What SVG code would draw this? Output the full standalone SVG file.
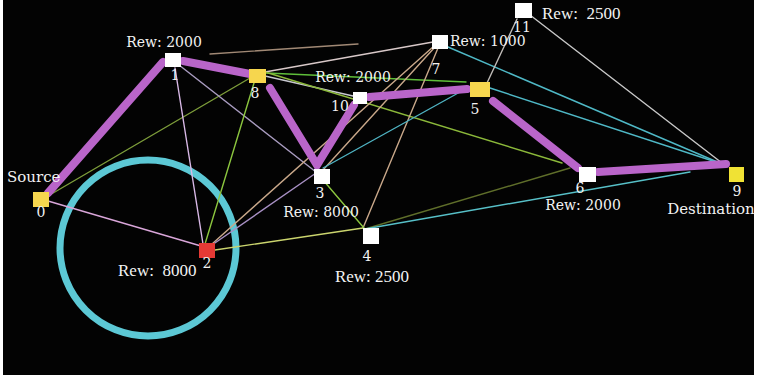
<svg xmlns="http://www.w3.org/2000/svg" width="757" height="379" viewBox="0 0 757 379">
  <style>
    .lbl { font-family: "DejaVu Serif", "Liberation Serif", serif; fill: #f2f2f2; }
    .rew { font-size: 14px; }
    .tms { font-family: "Liberation Serif", "DejaVu Serif", serif; font-size: 17px; white-space: pre; }
    .big { font-size: 15px; }
    .num { font-size: 14px; text-anchor: middle; }
    .mid { text-anchor: middle; }
    .edge { fill: none; stroke-width: 1.4; stroke-linecap: round; }
    .route { fill: none; stroke: #b965c9; stroke-width: 8; stroke-linecap: round; }
    .white { fill: #ffffff; }
    .gold { fill: #f6d64e; }
    .lemon { fill: #f0e234; }
    .red { fill: #e53a35; }
  </style>

  <rect x="0" y="0" width="757" height="379" fill="#ffffff"/>
  <rect x="3" y="0" width="751" height="375" fill="#030303"/>

  <!-- highlight ring around node 2 -->
  <circle cx="148" cy="248" r="88" fill="none" stroke="#5cc8d5" stroke-width="7"/>

  <g id="connectors">
    <!-- thin candidate edges -->
    <line class="edge" x1="210" y1="54" x2="358" y2="44" stroke="#c9ab92" stroke-width="2" opacity="0.8"/>
    <line class="edge" x1="48" y1="196" x2="250" y2="78" stroke="#7d9d3a"/>
    <line class="edge" x1="48" y1="201" x2="201" y2="246" stroke="#d9a6d9"/>
    <line class="edge" x1="175" y1="68" x2="203" y2="244" stroke="#d8b8e6"/>
    <line class="edge" x1="179" y1="65" x2="316" y2="172" stroke="#a99cc0"/>
    <line class="edge" x1="254" y1="83" x2="205" y2="244" stroke="#8cc63f"/>
    <line class="edge" x1="265" y1="72" x2="433" y2="42" stroke="#d8c8c8"/>
    <line class="edge" x1="266" y1="73" x2="466" y2="82" stroke="#5fbf3a" stroke-width="1.8"/>
    <line class="edge" x1="265" y1="76" x2="353" y2="96" stroke="#c8c8d0"/>
    <line class="edge" x1="265" y1="72" x2="562" y2="163" stroke="#8bb83a"/>
    <line class="edge" x1="434" y1="46" x2="212" y2="244" stroke="#c9a88a"/>
    <line class="edge" x1="435" y1="47" x2="323" y2="170" stroke="#c9a88a"/>
    <line class="edge" x1="438" y1="48" x2="363" y2="228" stroke="#c9a88a"/>
    <line class="edge" x1="212" y1="245" x2="316" y2="173" stroke="#a890c4"/>
    <line class="edge" x1="215" y1="250" x2="363" y2="228" stroke="#cbd56e" stroke-width="1.6"/>
    <line class="edge" x1="323" y1="180" x2="364" y2="228" stroke="#8cc63f" stroke-width="1.8"/>
    <line class="edge" x1="323" y1="168" x2="469" y2="87" stroke="#4fb3c2"/>
    <line class="edge" x1="448" y1="47" x2="722" y2="164" stroke="#4fb8c6"/>
    <line class="edge" x1="490" y1="88" x2="722" y2="164" stroke="#4fb8c6"/>
    <line class="edge" x1="530" y1="15" x2="722" y2="163" stroke="#c8c8c8"/>
    <line class="edge" x1="517" y1="19" x2="487" y2="83" stroke="#c0bcb8"/>
    <line class="edge" x1="365" y1="229" x2="570" y2="168" stroke="#5f6e2a"/>
    <line class="edge" x1="365" y1="229" x2="690" y2="172" stroke="#57c0c8" stroke-width="1.6"/>

    <!-- chosen route -->
    <line class="route" x1="48" y1="193" x2="163" y2="62"/>
    <line class="route" x1="183" y1="61" x2="250" y2="74"/>
    <polyline class="route" points="270,88 317,165 354,105"/>
    <line class="route" x1="369" y1="97" x2="467" y2="89"/>
    <line class="route" x1="493" y1="101" x2="578" y2="168"/>
    <line class="route" x1="598" y1="172" x2="726" y2="164"/>
  </g>

  <g id="node-0">
    <rect class="gold" x="33" y="192" width="16" height="15"/>
    <text class="lbl big" x="7" y="182">Source</text>
    <text class="lbl num" x="41" y="217">0</text>
  </g>
  <g id="node-1">
    <rect class="white" x="165" y="53" width="16" height="14"/>
    <text class="lbl rew mid" x="164" y="47">Rew: 2000</text>
    <text class="lbl num" x="175" y="80">1</text>
  </g>
  <g id="node-2">
    <rect class="red" x="199" y="243" width="16" height="15"/>
    <text class="lbl num" x="207" y="268">2</text>
    <text class="lbl tms" x="118" y="276" xml:space="preserve">Rew:  8000</text>
  </g>
  <g id="node-3">
    <rect class="white" x="314" y="169" width="16" height="15"/>
    <text class="lbl num" x="320" y="198">3</text>
    <text class="lbl rew mid" x="321" y="217">Rew: 8000</text>
  </g>
  <g id="node-4">
    <rect class="white" x="363" y="228" width="16" height="16"/>
    <text class="lbl num" x="367" y="261">4</text>
    <text class="lbl tms mid" x="372" y="282">Rew: 2500</text>
  </g>
  <g id="node-5">
    <rect class="gold" x="470" y="82" width="20" height="15"/>
    <text class="lbl num" x="475" y="114">5</text>
  </g>
  <g id="node-6">
    <rect class="white" x="579" y="167" width="17" height="15"/>
    <text class="lbl num" x="580" y="193">6</text>
    <text class="lbl rew mid" x="583" y="210">Rew: 2000</text>
  </g>
  <g id="node-7">
    <rect class="white" x="432" y="35" width="16" height="14"/>
    <text class="lbl num" x="436" y="74">7</text>
    <text class="lbl rew" x="450" y="46">Rew: 1000</text>
  </g>
  <g id="node-8">
    <rect class="gold" x="249" y="69" width="17" height="14"/>
    <text class="lbl num" x="255" y="98">8</text>
  </g>
  <g id="node-9">
    <rect class="lemon" x="729" y="167" width="15" height="15"/>
    <text class="lbl num" x="737" y="196">9</text>
    <text class="lbl big mid" x="711" y="214">Destination</text>
  </g>
  <g id="node-10">
    <rect class="white" x="353" y="92" width="14" height="12"/>
    <text class="lbl num" x="340" y="111">10</text>
    <text class="lbl rew mid" x="353" y="82">Rew: 2000</text>
  </g>
  <g id="node-11">
    <rect class="white" x="515" y="3" width="17" height="15"/>
    <text class="lbl num" x="522" y="32">11</text>
    <text class="lbl tms" x="542" y="19" xml:space="preserve">Rew:  2500</text>
  </g>
</svg>
